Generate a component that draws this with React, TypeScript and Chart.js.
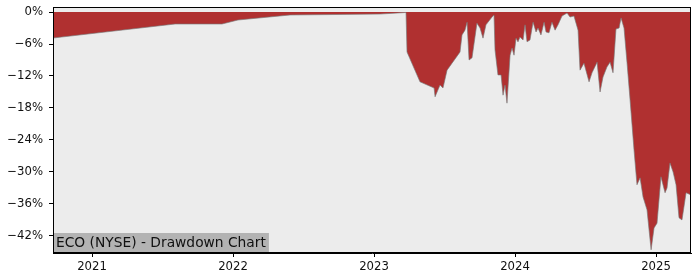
import React, { useEffect, useRef } from "react";
import { Chart, registerables } from "chart.js";

Chart.register(...registerables);

// decimal years
const dates: number[] = [
  2020.723, 2021.589, 2021.922, 2022.035, 2022.404, 2023.043, 2023.227, 2023.234,
  2023.326, 2023.426, 2023.433, 2023.468, 2023.489, 2023.518, 2023.61, 2023.624,
  2023.645, 2023.66, 2023.674, 2023.695, 2023.73, 2023.752, 2023.773, 2023.794,
  2023.837, 2023.851, 2023.858, 2023.879, 2023.901, 2023.915, 2023.929, 2023.943,
  2023.965, 2023.979, 2023.993, 2024.007, 2024.021, 2024.035, 2024.057, 2024.071,
  2024.085, 2024.106, 2024.128, 2024.149, 2024.163, 2024.184, 2024.206, 2024.22,
  2024.241, 2024.262, 2024.284, 2024.305, 2024.333, 2024.369, 2024.39, 2024.418,
  2024.447, 2024.461, 2024.489, 2024.525, 2024.546, 2024.582, 2024.603, 2024.624,
  2024.652, 2024.674, 2024.695, 2024.716, 2024.738, 2024.752, 2024.773, 2024.794,
  2024.816, 2024.844, 2024.865, 2024.887, 2024.908, 2024.936, 2024.965, 2024.986,
  2025.007, 2025.035, 2025.064, 2025.078, 2025.099, 2025.121, 2025.142, 2025.163,
  2025.184, 2025.213, 2025.248,
];

const drawdown: number[] = [
  -4.88, -2.25, -2.25, -1.5, -0.56, -0.38, -0.09, -7.5,
  -13.1, -14.25, -15.9, -13.7, -14.25, -10.9, -7.5, -4.3,
  -3.4, -1.9, -9.0, -8.6, -2.1, -3.0, -4.9, -2.4,
  -0.94, -0.56, -7.1, -11.8, -11.8, -15.6, -13.7, -17.1,
  -8.1, -6.75, -8.1, -4.9, -5.6, -4.7, -5.25, -2.4,
  -5.6, -5.25, -1.9, -3.75, -3.0, -4.3, -1.9, -3.75,
  -3.9, -1.9, -3.4, -2.4, -0.75, -0.19, -0.94, -0.75,
  -3.4, -10.9, -9.6, -13.1, -11.4, -9.4, -15.0, -12.2,
  -10.3, -9.4, -11.4, -3.2, -3.0, -1.1, -3.0, -9.4,
  -16.5, -25.9, -32.4, -31.1, -34.7, -37.1, -44.6, -40.5,
  -39.6, -30.9, -33.9, -33.0, -28.3, -30.0, -32.4, -38.6,
  -39.0, -33.9, -34.3,
];

const yTicks: number[] = [0, -6, -12, -18, -24, -30, -36, -42];
const xTicks: number[] = [2021, 2022, 2023, 2024, 2025];
const titleText = "ECO (NYSE) - Drawdown Chart";

const FONT = "'DejaVu Sans', sans-serif";

export default function App() {
  const ref = useRef<HTMLCanvasElement | null>(null);

  useEffect(() => {
    if (!ref.current) return;
    const bgPlugin = {
      id: "bg",
      beforeDraw(chart: any) {
        const { ctx, chartArea: a } = chart;
        ctx.save();
        ctx.fillStyle = "#ececec";
        ctx.fillRect(a.left, a.top, a.right - a.left, a.bottom - a.top);
        ctx.restore();
      },
      afterDraw(chart: any) {
        const { ctx, chartArea: a } = chart;
        ctx.save();
        // label box
        ctx.font = `13.8px ${FONT}`;
        const w = ctx.measureText(titleText).width;
        ctx.fillStyle = "#b3b3b3";
        ctx.fillRect(a.left, a.bottom - 20, w + 6, 19);
        ctx.fillStyle = "#111";
        ctx.textBaseline = "middle";
        ctx.fillText(titleText, a.left + 3, a.bottom - 10);
        // frame
        ctx.strokeStyle = "#000";
        ctx.lineWidth = 1;
        ctx.strokeRect(a.left + 0.5, a.top + 0.5, a.right - a.left - 1, a.bottom - a.top - 1);
        ctx.restore();
      },
    };

    const chart = new Chart(ref.current, {
      type: "line",
      data: {
        datasets: [
          {
            data: dates.map((d, i) => ({ x: d, y: drawdown[i] })),
            fill: "origin",
            backgroundColor: "#b03030",
            borderColor: "rgba(120,120,120,0.8)",
            borderWidth: 0.8,
            pointRadius: 0,
            tension: 0,
          },
        ],
      },
      options: {
        responsive: false,
        animation: false,
        layout: { padding: { top: 7, right: 9, left: 0, bottom: 0 } },
        plugins: { legend: { display: false }, tooltip: { enabled: false } },
        scales: {
          x: {
            type: "linear",
            min: 2020.7234,
            max: 2025.248,
            afterBuildTicks: (s: any) => {
              s.ticks = xTicks.map((v) => ({ value: v }));
            },
            afterFit: (s: any) => {
              s.height = 27;
            },
            grid: {
              drawOnChartArea: false,
              drawTicks: true,
              tickLength: 4,
              tickColor: "#000",
            },
            border: { display: true, color: "#000" },
            ticks: {
              autoSkip: false,
              maxRotation: 0,
              padding: 3,
              color: "#111",
              font: { family: FONT, size: 11.7 },
              callback: (v: any) => String(v),
            },
          },
          y: {
            type: "linear",
            min: -45.2,
            max: 0.94,
            afterBuildTicks: (s: any) => {
              s.ticks = yTicks.map((v) => ({ value: v }));
            },
            afterFit: (s: any) => {
              s.width = 53;
              s.paddingTop = 0;
            },
            grid: {
              drawOnChartArea: false,
              drawTicks: true,
              tickLength: 4,
              tickColor: "#000",
            },
            border: { display: true, color: "#000" },
            ticks: {
              padding: 6,
              color: "#111",
              font: { family: FONT, size: 11.7 },
              callback: (v: any) => (v === 0 ? "0%" : "\u2212" + Math.abs(v) + "%"),
            },
          },
        },
      },
      plugins: [bgPlugin],
    } as any);
    return () => chart.destroy();
  }, []);

  return (
    <div style={{ position: "fixed", left: 0, top: 0, width: 700, height: 280, background: "#fff" }}>
      <canvas ref={ref} width={700} height={280} style={{ width: 700, height: 280 }} />
    </div>
  );
}
